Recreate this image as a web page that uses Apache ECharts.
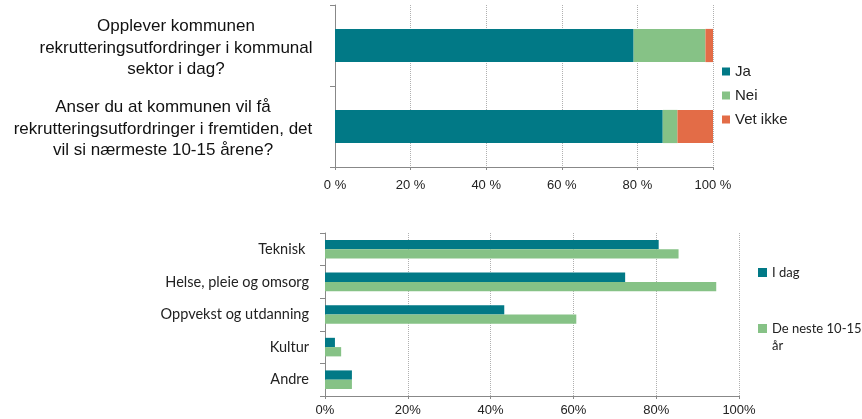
<!DOCTYPE html>
<html>
<head>
<meta charset="utf-8">
<script src="https://cdn.jsdelivr.net/npm/echarts@6/dist/echarts.min.js"></script>
<style>html,body{margin:0;padding:0;background:#fff;}#c{width:862px;height:419px;}</style>
</head>
<body>
<div id="c"></div>
<script>
// Top chart
var topCategories = [
  'Opplever kommunen\nrekrutteringsutfordringer i kommunal\nsektor i dag?',
  'Anser du at kommunen vil få\nrekrutteringsutfordringer i fremtiden, det\nvil si nærmeste 10-15 årene?'
];
var jaValues = [79.0, 86.7];
var neiValues = [19.0, 3.9];
var vetIkkeValues = [2.0, 9.4];
var topTicks = ['0 %', '20 %', '40 %', '60 %', '80 %', '100 %'];

// Bottom chart
var bottomCategories = ['Teknisk ', 'Helse, pleie og omsorg', 'Oppvekst og utdanning', 'Kultur', 'Andre'];
var iDagValues = [80.6, 72.5, 43.3, 2.4, 6.5];
var nesteValues = [85.4, 94.5, 60.7, 3.9, 6.5];
var bottomTicks = ['0%', '20%', '40%', '60%', '80%', '100%'];

var TEAL = '#017986', GREEN = '#86C286', ORANGE = '#E36C47';
var chart = echarts.init(document.getElementById('c'));
var splitStyle = {show: true, lineStyle: {color: '#b0b0b0', type: 'dotted', width: 1}};
var axisLineStyle = {show: true, lineStyle: {color: '#888', width: 1}};

chart.setOption({
  animation: false,
  grid: [
    {left: 335, right: 149, top: 5, height: 162},
    {left: 325, right: 123, top: 233, height: 163}
  ],
  legend: [
    {
      orient: 'vertical', left: 717, top: 59, icon: 'rect', itemWidth: 8, itemHeight: 8, itemGap: 9,
      data: ['Ja', 'Nei', 'Vet ikke'],
      textStyle: {fontFamily: 'Liberation Sans', fontSize: 15, color: '#222'}
    },
    {
      orient: 'vertical', left: 753, top: 259, icon: 'rect', itemWidth: 9, itemHeight: 9, itemGap: 22,
      data: ['I dag', 'De neste 10-15 år'],
      formatter: function (n) { return n === 'De neste 10-15 år' ? ' \nDe neste 10-15\når' : n; },
      textStyle: {fontFamily: 'Lato', fontSize: 13, color: '#222', lineHeight: 17}
    }
  ],
  xAxis: [
    {
      gridIndex: 0, type: 'value', min: 0, max: 100, interval: 20,
      axisLine: axisLineStyle, axisTick: {show: true, length: 3, lineStyle: {color: '#888'}},
      splitLine: splitStyle,
      axisLabel: {margin: 12, fontFamily: 'Liberation Sans', fontSize: 13, color: '#222',
        formatter: function (v) { return topTicks[Math.round(v / 20)]; }}
    },
    {
      gridIndex: 1, type: 'value', min: 0, max: 100, interval: 20,
      axisLine: axisLineStyle, axisTick: {show: true, length: 3, lineStyle: {color: '#888'}},
      splitLine: splitStyle,
      axisLabel: {margin: 8, fontFamily: 'Liberation Sans', fontSize: 13, color: '#222',
        formatter: function (v) { return bottomTicks[Math.round(v / 20)]; }}
    }
  ],
  yAxis: [
    {
      gridIndex: 0, type: 'category', inverse: true, data: topCategories,
      axisLine: axisLineStyle, axisTick: {show: true, length: 5, lineStyle: {color: '#888'}},
      axisLabel: {
        margin: 20, align: 'right', padding: [5, 0, 0, 0],
        formatter: function (v, i) {
          var s = i === 0 ? 'a' : 'b';
          return v.split('\n').map(function (l) { return '{' + s + '|' + l + '}'; }).join('\n');
        },
        rich: {
          a: {width: 278, align: 'center', fontFamily: 'Liberation Sans', fontSize: 17, lineHeight: 21.5, color: '#111'},
          b: {width: 304, align: 'center', fontFamily: 'Liberation Sans', fontSize: 17, lineHeight: 21.5, color: '#111'}
        }
      }
    },
    {
      gridIndex: 1, type: 'category', inverse: true, data: bottomCategories,
      axisLine: axisLineStyle, axisTick: {show: true, length: 5, lineStyle: {color: '#888'}},
      axisLabel: {margin: 16, fontFamily: 'Lato', fontSize: 14.5, color: '#222'}
    }
  ],
  series: [
    {name: 'Ja', type: 'bar', stack: 't', xAxisIndex: 0, yAxisIndex: 0, barWidth: '41%', data: jaValues, itemStyle: {color: TEAL}},
    {name: 'Nei', type: 'bar', stack: 't', xAxisIndex: 0, yAxisIndex: 0, barWidth: '41%', data: neiValues, itemStyle: {color: GREEN}},
    {name: 'Vet ikke', type: 'bar', stack: 't', xAxisIndex: 0, yAxisIndex: 0, barWidth: '41%', data: vetIkkeValues, itemStyle: {color: ORANGE}},
    {name: 'I dag', type: 'bar', xAxisIndex: 1, yAxisIndex: 1, barGap: '0%', barCategoryGap: '43%', data: iDagValues, itemStyle: {color: TEAL}},
    {name: 'De neste 10-15 år', type: 'bar', xAxisIndex: 1, yAxisIndex: 1, barGap: '0%', barCategoryGap: '43%', data: nesteValues, itemStyle: {color: GREEN}}
  ]
});
</script>
</body>
</html>
